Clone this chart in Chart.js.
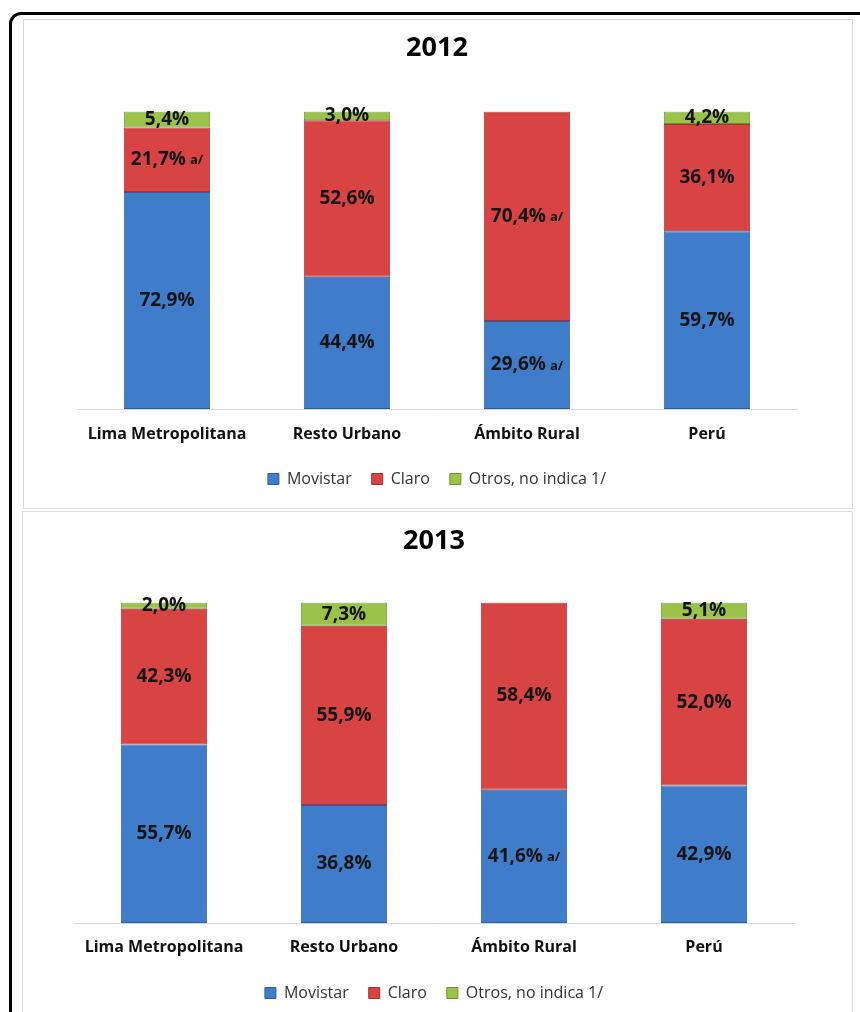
<!DOCTYPE html>
<html>
<head>
<meta charset="utf-8">
<script src="https://cdn.jsdelivr.net/npm/chart.js@4.4.1/dist/chart.umd.min.js"></script>
<style>
    html, body { margin: 0; padding: 0; background: #fff; overflow: hidden; width: 860px; height: 1012px; }
    .frame { position: absolute; left: 9px; top: 12px; width: 900px; height: 1100px;
             border: 3px solid #000; border-radius: 12px 0 0 0; }
    .panel { position: absolute; border: 1px solid #d9d9d9; box-sizing: border-box; }
    canvas { position: absolute; }
</style>
</head>
<body>
<div class="frame"></div>
<div class="panel" style="left:23px; top:19px; width:830px; height:490px;"></div>
<div class="panel" style="left:22px; top:511px; width:831px; height:520px;"></div>
<canvas id="chart2012" width="829" height="489" style="left:23px; top:19px;"></canvas>
<canvas id="chart2013" width="830" height="512" style="left:22px; top:511px;"></canvas>
<script>
const categories = ['Lima Metropolitana', 'Resto Urbano', 'Ámbito Rural', 'Perú'];
const seriesNames = ['Movistar', 'Claro', 'Otros, no indica 1/'];

const movistar2012 = [72.9, 44.4, 29.6, 59.7];
const claro2012 = [21.7, 52.6, 70.4, 36.1];
const otros2012 = [5.4, 3.0, 0, 4.2];
const movistarNotes2012 = ['', '', 'a/', ''];
const claroNotes2012 = ['a/', '', 'a/', ''];

const movistar2013 = [55.7, 36.8, 41.6, 42.9];
const claro2013 = [42.3, 55.9, 58.4, 52.0];
const otros2013 = [2.0, 7.3, 0, 5.1];
const movistarNotes2013 = ['', '', 'a/', ''];
const claroNotes2013 = ['', '', '', ''];

const FONT = "'Open Sans', 'DejaVu Sans', sans-serif";
const colors = {
    movistar: { fill: '#3f7dcb', edge: '#2c5d9c' },
    claro: { fill: '#d84343', edge: '#a83030' },
    otros: { fill: '#9cc349', edge: '#6f9130' }
};

// draws the value labels (with the small "a/" notes) in the middle of each segment
const segmentLabels = {
    id: 'segmentLabels',
    afterDatasetsDraw(chart) {
        const ctx = chart.ctx;
        ctx.save();
        ctx.textBaseline = 'middle';
        ctx.textAlign = 'left';
        ctx.fillStyle = '#141414';
        chart.data.datasets.forEach((ds, i) => {
            const meta = chart.getDatasetMeta(i);
            meta.data.forEach((bar, j) => {
                const v = ds.data[j];
                if (!v) return;
                const main = v.toFixed(1).replace('.', ',') + '%';
                const note = ds.notes ? ds.notes[j] : '';
                ctx.font = 'bold 19px ' + FONT;
                const wMain = ctx.measureText(main).width;
                ctx.font = 'bold 13px ' + FONT;
                const wNote = note ? ctx.measureText(note).width + 4 : 0;
                const x0 = bar.x - (wMain + wNote) / 2;
                const y = (bar.y + bar.base) / 2;
                ctx.font = 'bold 19px ' + FONT;
                ctx.fillText(main, x0, y);
                if (note) {
                    ctx.font = 'bold 13px ' + FONT;
                    ctx.fillText(note, x0 + wMain + 4, y + 1);
                }
            });
        });
        ctx.restore();
    }
};

function makeChart(id, year, movistar, claro, otros, movNotes, claroNotes, lay) {
    const ctx = document.getElementById(id).getContext('2d');
    const ds = (label, data, c, notes) => ({
        label: label,
        data: data,
        notes: notes,
        backgroundColor: c.fill,
        borderColor: c.edge,
        borderWidth: 1,
        borderSkipped: false,
        barPercentage: 0.48,
        categoryPercentage: 1
    });
    return new Chart(ctx, {
        type: 'bar',
        data: {
            labels: categories,
            datasets: [
                ds(seriesNames[0], movistar, colors.movistar, movNotes),
                ds(seriesNames[1], claro, colors.claro, claroNotes),
                ds(seriesNames[2], otros, colors.otros, null)
            ]
        },
        options: {
            responsive: false,
            animation: false,
            layout: { padding: { left: lay.left, right: lay.right, top: 0, bottom: lay.bottom } },
            scales: {
                x: {
                    stacked: true,
                    grid: { display: false, drawTicks: false },
                    border: { display: true, color: '#d9d9d9', width: 1 },
                    ticks: { padding: lay.tickPad, color: '#111', font: { family: FONT, size: 16, weight: 'bold' } },
                    afterFit(scale) { scale.height = lay.axisHeight; }
                },
                y: { stacked: true, display: false, min: 0, max: 100 }
            },
            plugins: {
                title: {
                    display: true,
                    text: year,
                    color: '#000',
                    font: { family: FONT, size: 27, weight: 'bold' },
                    padding: { top: lay.titleTop, bottom: lay.titleBottom }
                },
                legend: {
                    position: 'bottom',
                    labels: {
                        boxWidth: 11,
                        boxHeight: 11,
                        padding: 20,
                        color: '#333',
                        font: { family: FONT, size: 16 }
                    }
                },
                tooltip: { enabled: false }
            }
        },
        plugins: [segmentLabels]
    });
}

makeChart('chart2012', '2012', movistar2012, claro2012, otros2012, movistarNotes2012, claroNotes2012,
    { left: 54, right: 55, bottom: 11, tickPad: 16, axisHeight: 42, titleTop: 13, titleBottom: 47 });
makeChart('chart2013', '2013', movistar2013, claro2013, otros2013, movistarNotes2013, claroNotes2013,
    { left: 52, right: 58, bottom: 12, tickPad: 15, axisHeight: 42, titleTop: 14, titleBottom: 45 });
</script>
</body>
</html>
